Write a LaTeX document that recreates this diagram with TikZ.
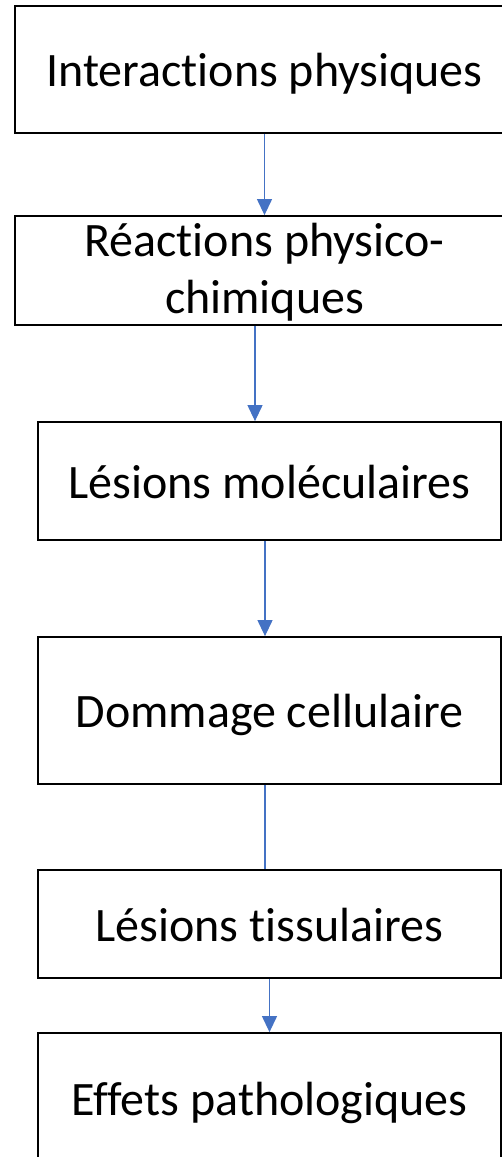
\documentclass[tikz,border=0pt]{standalone}
\usepackage{fontspec}
\setmainfont{Carlito}[RawFeature={-liga;-clig;-calt;-rlig;-ccmp;-dlig}]
\usetikzlibrary{arrows.meta}
\definecolor{flowblue}{HTML}{4472C4}

\begin{document}
\begin{tikzpicture}[x=1pt,y=-1pt,
    stage/.style={draw, line width=1.8pt, rectangle, inner sep=0pt, align=center,
        font=\fontsize{48}{57}\selectfont, text height=41pt, text depth=7pt},
    flow/.style={draw=flowblue, line width=1.2pt, -{Triangle[width=15pt,length=16pt]}}]
    % Page
    \useasboundingbox (0,0) rectangle (502,1157);
    \clip (0,0) rectangle (502,1157);

    % Stages
    \node[stage, minimum width=499pt, minimum height=127pt] (phys) at (264.5,69.5) {Interactions physiques};
    \node[stage, minimum width=499pt, minimum height=109pt, text height=, text depth=] (chim) at (264.5,270.5) {\raisebox{-2pt}[\height][\depth]{Réactions physico-}\\\raisebox{-2pt}[\height][\depth]{chimiques}};
    \node[stage, minimum width=463pt, minimum height=118pt] (mol) at (269.5,481) {Lésions moléculaires};
    \node[stage, minimum width=463pt, minimum height=147pt] (cell) at (269.5,710.5) {Dommage cellulaire};
    \node[stage, minimum width=463pt, minimum height=108pt] (tiss) at (269.5,924) {Lésions tissulaires};
    \node[stage, minimum width=463pt, minimum height=130pt] (patho) at (269.5,1098) {Effets pathologiques};

    % Links
    \draw[flow] (phys.south) -- (phys.south |- chim.north);
    \draw[flow] ([xshift=-9.5pt]chim.south) -- ([xshift=-9.5pt]chim.south |- mol.north);
    \draw[flow] ([xshift=-4.5pt]mol.south) -- ([xshift=-4.5pt]mol.south |- cell.north);
    \draw[flowblue, line width=1.2pt] ([xshift=-4.5pt]cell.south) -- ([xshift=-4.5pt]cell.south |- tiss.north);
    \draw[flow] (tiss.south) -- (tiss.south |- patho.north);
\end{tikzpicture}
\end{document}
